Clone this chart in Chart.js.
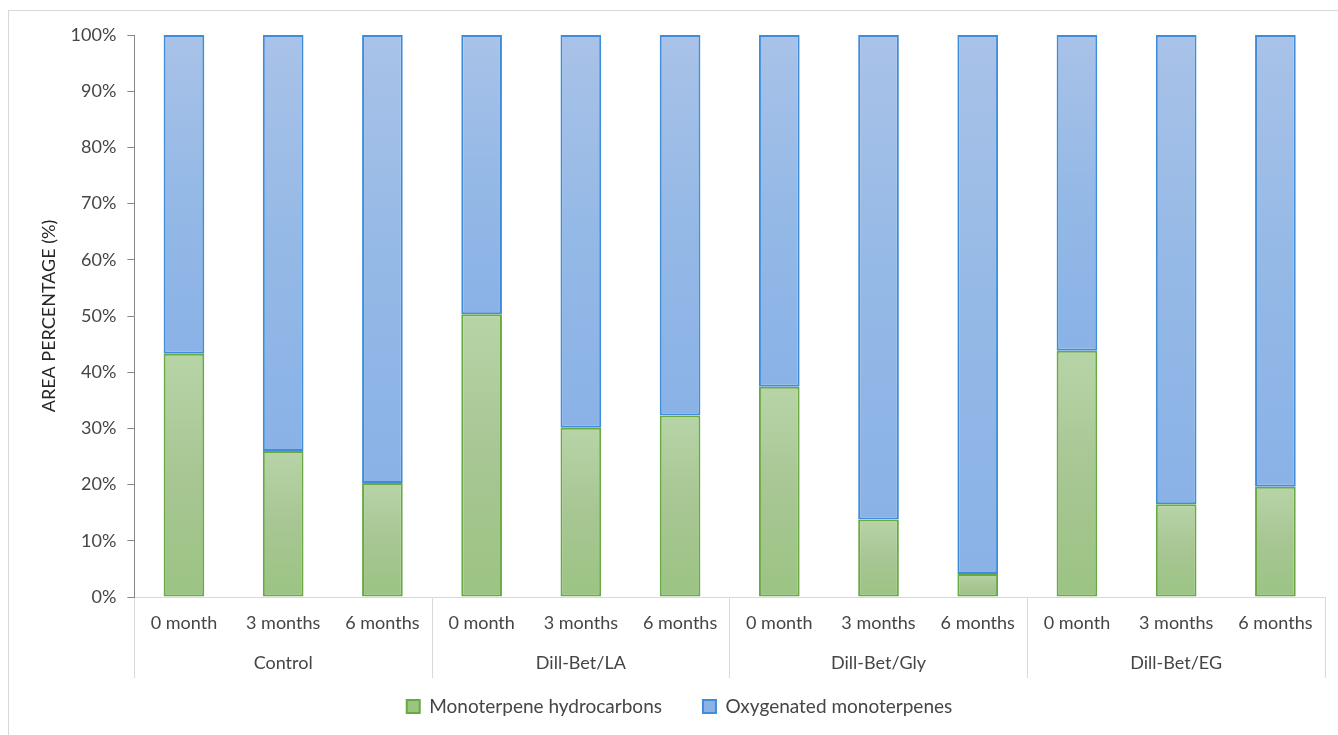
<!DOCTYPE html>
<html>
<head>
<meta charset="utf-8">
<script src="https://cdn.jsdelivr.net/npm/chart.js@4/dist/chart.umd.min.js"></script>
<style>
  html, body { margin: 0; padding: 0; background: #fff; overflow: hidden; }
  #frame { position: absolute; left: 8px; top: 10px; width: 1360px; height: 760px; border: 1px solid #d9d9d9; }
  #wrap { position: absolute; left: 0; top: 0; width: 1338px; height: 735px; }
</style>
</head>
<body>
<div id="frame"></div>
<div id="wrap"><canvas id="chart1"></canvas></div>
<script>
// data
var groups = ["Control", "Dill-Bet/LA", "Dill-Bet/Gly", "Dill-Bet/EG"];
var months = ["0 month", "3 months", "6 months"];
var hydrocarbons = [43.3, 26.0, 20.3, 50.3, 30.1, 32.3, 37.4, 13.8, 4.1, 43.8, 16.5, 19.6];
var oxygenated = [56.7, 74.0, 79.7, 49.7, 69.9, 67.7, 62.6, 86.2, 95.9, 56.2, 83.5, 80.4];
var yTicks = [0, 10, 20, 30, 40, 50, 60, 70, 80, 90, 100];

// two-level category labels: the group name sits on the second line of the middle bar
var labels = [];
groups.forEach(function (g) {
  months.forEach(function (m, i) {
    labels.push(i === 1 ? [m, g] : m);
  });
});

var textColor = "#454545";
var fontFamily = "Lato, 'Open Sans', sans-serif";

// excel-like per-bar gradient, lighter at the top of each segment
function barFill(stops, solid) {
  return function (ctx) {
    var chart = ctx.chart;
    if (!chart.chartArea || ctx.type !== "data") return solid;
    var y = chart.scales.y;
    var lo = 0, hi = 0;
    for (var d = 0; d <= ctx.datasetIndex; d++) {
      lo = hi;
      hi += chart.data.datasets[d].data[ctx.dataIndex];
    }
    var g = chart.ctx.createLinearGradient(0, y.getPixelForValue(hi), 0, y.getPixelForValue(lo));
    g.addColorStop(0, stops[0]);
    g.addColorStop(0.5, stops[1]);
    g.addColorStop(1, stops[2]);
    return g;
  };
}

var ctx = document.getElementById("chart1").getContext("2d");
var myChart = new Chart(ctx, {
  type: "bar",
  data: {
    labels: labels,
    datasets: [
      {
        label: "Monoterpene hydrocarbons",
        data: hydrocarbons,
        backgroundColor: barFill(["#b7d4a7", "#a7c693", "#9bc483"], "#a7ca90"),
        borderColor: "#6aa842",
        borderWidth: 2,
        borderSkipped: false,
      },
      {
        label: "Oxygenated monoterpenes",
        data: oxygenated,
        backgroundColor: barFill(["#a9c2e8", "#94b9e6", "#8ab2e6"], "#a2c0ea"),
        borderColor: "#3f8dda",
        borderWidth: 2,
        borderSkipped: false,
      },
    ],
  },
  options: {
    responsive: true,
    maintainAspectRatio: false,
    animation: false,
    barPercentage: 0.41,
    categoryPercentage: 1,
    layout: {
      padding: { left: 34, right: 13, top: 35, bottom: 9 },
    },
    plugins: {
      legend: {
        display: true,
        position: "bottom",
        labels: {
          boxWidth: 13,
          boxHeight: 13,
          padding: 41,
          color: textColor,
          font: { family: fontFamily, size: 19 },
        },
      },
      tooltip: { enabled: false },
    },
    scales: {
      x: {
        stacked: true,
        border: { display: true, color: "#d9d9d9" },
        grid: {
          offset: true,
          drawOnChartArea: false,
          tickLength: 81,
          // separators only between the groups
          color: function (c) {
            return c.index === undefined || c.index % 3 === 0 ? "#d9d9d9" : "rgba(0,0,0,0)";
          },
        },
        ticks: {
          mirror: true,
          padding: -46,
          maxRotation: 0,
          autoSkip: false,
          color: textColor,
          font: { family: fontFamily, size: 18, lineHeight: 40 / 18 },
        },
        afterFit: function (axis) {
          axis.height = 59;
        },
      },
      y: {
        stacked: true,
        min: 0,
        max: 100,
        afterBuildTicks: function (axis) {
          axis.ticks = yTicks.map(function (v) { return { value: v }; });
        },
        border: { display: true, color: "#868686" },
        grid: {
          drawOnChartArea: false,
          tickLength: 7,
          color: "#868686",
        },
        ticks: {
          padding: 11,
          color: textColor,
          font: { family: fontFamily, size: 18 },
          callback: function (v) { return v + "%"; },
        },
        title: {
          display: true,
          text: "AREA PERCENTAGE (%)",
          color: "#262626",
          padding: { top: 4, bottom: 0 },
          font: { family: fontFamily, size: 18 },
        },
      },
    },
  },
});
</script>
</body>
</html>
